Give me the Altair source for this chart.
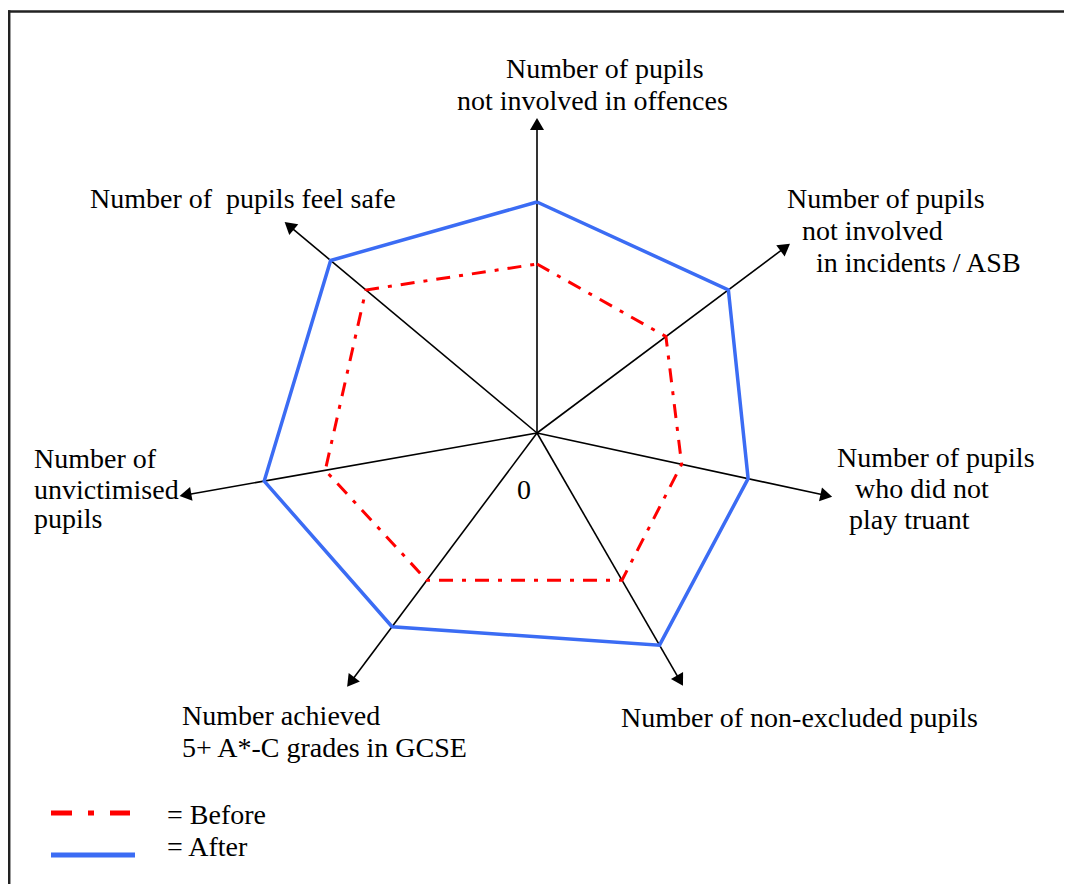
import altair as alt
import pandas as pd
import numpy as np

# ---- data ----
categories = [
    "Number of pupils not involved in offences",
    "Number of pupils not involved in incidents / ASB",
    "Number of pupils who did not play truant",
    "Number of non-excluded pupils",
    "Number achieved 5+ A*-C grades in GCSE",
    "Number of unvictimised pupils",
    "Number of pupils feel safe",
]
axis_angles = [90.0, 36.8, -12.2, -60.0, -126.8, -170.0, 140.1]   # degrees, counter-clockwise
axis_lengths = [315, 316, 302, 292, 317, 363, 329]
before = [169, 161, 148, 170, 184, 215, 223]
after = [231, 239, 216, 245, 242, 277, 269]

# ---- layout (pixel positions of the text, page coords) ----
label_lines = [
    ("Number of pupils", 506, 78), ("not involved in offences", 457, 110),
    ("Number of pupils", 787, 208), ("not involved", 802, 240), ("in incidents / ASB", 816, 272),
    ("Number of pupils", 837, 467), ("who did not", 855, 498), ("play truant", 849, 529),
    ("Number of non-excluded pupils", 621, 727),
    ("Number achieved", 182, 725), ("5+ A*-C grades in GCSE", 182, 757),
    ("Number of", 34, 468), ("unvictimised", 34, 499), ("pupils", 34, 528),
    ("Number of\u00a0 pupils feel safe", 90, 208),
    ("0", 517, 499),
    ("= Before", 167, 824), ("= After", 167, 856),
]

W, H = 1056, 876
FONT = "Liberation Serif"
BLUE = "#3b6cf4"
RED = "#ff0000"
ARROW = 6

xs = alt.Scale(domain=[-529, 527], nice=False, zero=False)
ys = alt.Scale(domain=[-451, 425], nice=False, zero=False)

rad = np.radians(axis_angles)

# axes
ax_df = pd.DataFrame({
    "cat": categories,
    "x0": 0.0, "y0": 0.0,
    "x1": (np.array(axis_lengths) - ARROW) * np.cos(rad),
    "y1": (np.array(axis_lengths) - ARROW) * np.sin(rad),
    "hx": (np.array(axis_lengths) - ARROW) * np.cos(rad),
    "hy": (np.array(axis_lengths) - ARROW) * np.sin(rad),
    "rot": [(90 - a) % 360 for a in axis_angles],
})

axes_lines = alt.Chart(ax_df).mark_rule(color="black", strokeWidth=1.6).encode(
    x=alt.X("x0:Q", scale=xs, axis=None),
    y=alt.Y("y0:Q", scale=ys, axis=None),
    x2="x1:Q", y2="y1:Q",
)

heads = alt.Chart(ax_df).mark_point(
    shape="M0,-0.85L1,0.85L-1,0.85Z", filled=True, color="black", opacity=1, size=196
).encode(
    x=alt.X("hx:Q", scale=xs, axis=None),
    y=alt.Y("hy:Q", scale=ys, axis=None),
    angle=alt.Angle("rot:Q", scale=None),
)

# series polygons
rows = []
for name, vals in (("Before", before), ("After", after)):
    n = len(vals)
    for k in range(n + 1):
        i = k % n
        rows.append({
            "series": name, "order": k,
            "x": vals[i] * np.cos(rad[i]),
            "y": vals[i] * np.sin(rad[i]),
        })
poly = pd.DataFrame(rows)

after_line = alt.Chart(poly[poly.series == "After"]).mark_line(
    color=BLUE, strokeWidth=3.5, strokeJoin="miter"
).encode(
    x=alt.X("x:Q", scale=xs, axis=None),
    y=alt.Y("y:Q", scale=ys, axis=None),
    order="order:Q",
)
before_line = alt.Chart(poly[poly.series == "Before"]).mark_line(
    color=RED, strokeWidth=3, strokeDash=[14, 9, 4, 9], strokeJoin="miter"
).encode(
    x=alt.X("x:Q", scale=xs, axis=None),
    y=alt.Y("y:Q", scale=ys, axis=None),
    order="order:Q",
)

# texts
txt_df = pd.DataFrame([{"t": t, "px": x - 8, "py": y - 8} for t, x, y in label_lines])
texts = alt.Chart(txt_df).mark_text(
    font=FONT, fontSize=28, align="left", baseline="alphabetic", color="black"
).encode(
    x=alt.X("px:Q", scale=None), y=alt.Y("py:Q", scale=None), text="t:N"
)

# legend swatches
leg_red = alt.Chart(pd.DataFrame({"a": [0]})).mark_rule(
    color=RED, strokeWidth=5, strokeDash=[21, 16, 6, 16], strokeCap="butt"
).encode(x=alt.value(51 - 8), x2=alt.value(130 - 8), y=alt.value(813 - 8))
leg_blue = alt.Chart(pd.DataFrame({"a": [0]})).mark_rule(
    color=BLUE, strokeWidth=5, strokeCap="butt"
).encode(x=alt.value(51 - 8), x2=alt.value(135 - 8), y=alt.value(855 - 8))

# frame (left and top edges visible)
frame_left = alt.Chart(pd.DataFrame({"a": [0]})).mark_rule(color="#222", strokeWidth=2.5).encode(
    x=alt.value(1.2), y=alt.value(2.2), y2=alt.value(H)
)
frame_top = alt.Chart(pd.DataFrame({"a": [0]})).mark_rule(color="#222", strokeWidth=2.5).encode(
    x=alt.value(0), x2=alt.value(W), y=alt.value(3.5)
)

chart = alt.layer(
    frame_left, frame_top, axes_lines, after_line, before_line, heads, texts, leg_red, leg_blue
).properties(
    width=W, height=H, padding=0, autosize=alt.AutoSizeParams(type="none")
).configure_view(stroke=None)

chart.save("out.html", embed_options={"renderer": "svg", "actions": False})
